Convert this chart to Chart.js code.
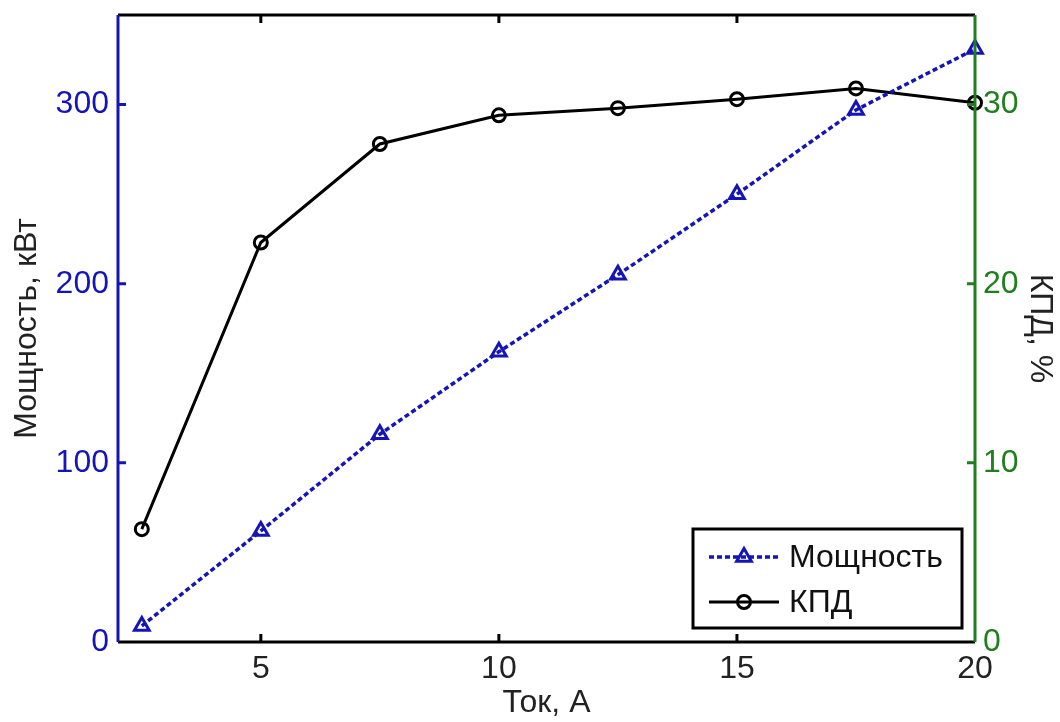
<!DOCTYPE html>
<html lang="ru">
<head>
  <meta charset="UTF-8" />
  <title>Мощность и КПД</title>
  <script src="https://cdn.jsdelivr.net/npm/chart.js"></script>
  <style>
    body { margin: 0; background: white; }
    canvas { display: block; }
  </style>
</head>
<body>
  <canvas id="chart" width="1060" height="722"></canvas>
  <script>
    // data
    const current = [2.5, 5, 7.5, 10, 12.5, 15, 17.5, 20];
    const power = [9, 62, 116, 162, 205, 250, 297, 331];
    const efficiency = [6.3, 22.3, 27.8, 29.4, 29.8, 30.3, 30.9, 30.1];
    const xTicks = [5, 10, 15, 20];
    const powerTicks = [0, 100, 200, 300];
    const effTicks = [0, 10, 20, 30];

    const BLUE = '#1414b8';
    const GREEN = '#1f7f1f';
    const FONT = 'Liberation Sans, Arial, sans-serif';
    const FS = 32;

    const setTicks = list => scale => { scale.ticks = list.map(v => ({ value: v })); };

    // frame, inward tick marks and boxed legend
    const frame = {
      id: 'frame',
      afterDraw(chart) {
        const ctx = chart.ctx;
        const a = chart.chartArea;
        const { x, y, y2 } = chart.scales;
        const len = 8;
        ctx.save();
        ctx.lineWidth = 3;
        ctx.strokeStyle = '#000';
        ctx.beginPath();
        ctx.moveTo(a.left, a.top); ctx.lineTo(a.right, a.top);
        ctx.moveTo(a.left, a.bottom); ctx.lineTo(a.right, a.bottom);
        xTicks.slice(0, -1).forEach(v => {
          const px = x.getPixelForValue(v);
          ctx.moveTo(px, a.bottom); ctx.lineTo(px, a.bottom - len);
          ctx.moveTo(px, a.top); ctx.lineTo(px, a.top + len);
        });
        ctx.stroke();
        ctx.strokeStyle = BLUE;
        ctx.beginPath();
        ctx.moveTo(a.left, a.top); ctx.lineTo(a.left, a.bottom);
        powerTicks.slice(1).forEach(v => {
          const py = y.getPixelForValue(v);
          ctx.moveTo(a.left, py); ctx.lineTo(a.left + len, py);
        });
        ctx.stroke();
        ctx.strokeStyle = GREEN;
        ctx.beginPath();
        ctx.moveTo(a.right, a.top); ctx.lineTo(a.right, a.bottom);
        effTicks.slice(1).forEach(v => {
          const py = y2.getPixelForValue(v);
          ctx.moveTo(a.right, py); ctx.lineTo(a.right - len, py);
        });
        ctx.stroke();

        // legend box
        const bx = 693, by = 529, bw = 269, bh = 99;
        ctx.fillStyle = '#fff';
        ctx.fillRect(bx, by, bw, bh);
        ctx.strokeStyle = '#000';
        ctx.lineWidth = 3;
        ctx.strokeRect(bx, by, bw, bh);
        chart.data.datasets.forEach((ds, i) => {
          const cy = by + 28 + i * 45;
          ctx.strokeStyle = ds.borderColor;
          ctx.lineWidth = ds.borderWidth;
          ctx.setLineDash(ds.borderDash || []);
          ctx.beginPath();
          ctx.moveTo(bx + 16, cy); ctx.lineTo(bx + 86, cy);
          ctx.stroke();
          ctx.setLineDash([]);
          ctx.fillStyle = 'rgba(0,0,0,0)';
          ctx.strokeStyle = ds.pointBorderColor;
          ctx.lineWidth = ds.pointBorderWidth;
          Chart.helpers.drawPoint(ctx, {
            pointStyle: ds.pointStyle, radius: ds.pointRadius,
            borderWidth: ds.pointBorderWidth, rotation: 0
          }, bx + 51, cy);
          ctx.fillStyle = '#111';
          ctx.font = FS + 'px ' + FONT;
          ctx.textBaseline = 'middle';
          ctx.fillText(ds.label, bx + 96, cy + 1);
        });
        ctx.restore();
      }
    };

    const font = { family: FONT, size: FS };

    new Chart(document.getElementById('chart'), {
      type: 'line',
      data: {
        datasets: [
          {
            label: 'Мощность',
            data: current.map((c, i) => ({ x: c, y: power[i] })),
            yAxisID: 'y',
            borderColor: BLUE,
            borderWidth: 3.5,
            borderDash: [5, 3],
            pointStyle: 'triangle',
            pointRadius: 8.5,
            pointBorderWidth: 3,
            pointBackgroundColor: 'rgba(0,0,0,0)',
            pointBorderColor: BLUE,
            clip: false
          },
          {
            label: 'КПД',
            data: current.map((c, i) => ({ x: c, y: efficiency[i] })),
            yAxisID: 'y2',
            borderColor: '#000',
            borderWidth: 3,
            pointStyle: 'circle',
            pointRadius: 6.5,
            pointBorderWidth: 3,
            pointBackgroundColor: 'rgba(0,0,0,0)',
            pointBorderColor: '#000',
            clip: false
          }
        ]
      },
      options: {
        responsive: false,
        animation: false,
        layout: { padding: { top: 15 } },
        plugins: { legend: { display: false }, tooltip: { enabled: false } },
        scales: {
          x: {
            type: 'linear', min: 2, max: 20,
            afterBuildTicks: setTicks(xTicks),
            afterFit: s => { s.height = 80; s.paddingLeft = 0; s.paddingRight = 0; },
            grid: { display: false, drawTicks: false },
            border: { display: false },
            ticks: { color: '#222', padding: 8, font },
            title: { display: true, text: 'Ток, А', color: '#222', padding: { top: 0, bottom: 0 }, font }
          },
          y: {
            position: 'left', min: 0, max: 350,
            afterBuildTicks: setTicks(powerTicks),
            afterFit: s => { s.width = 118; s.paddingTop = 0; s.paddingBottom = 0; },
            grid: { display: false, drawTicks: false },
            border: { display: false },
            ticks: { color: BLUE, padding: 9, font },
            title: { display: true, text: 'Мощность, кВт', color: '#222', padding: { top: 8 }, font }
          },
          y2: {
            position: 'right', min: 0, max: 35,
            afterBuildTicks: setTicks(effTicks),
            afterFit: s => { s.width = 85; s.paddingTop = 0; s.paddingBottom = 0; },
            grid: { display: false, drawTicks: false },
            border: { display: false },
            ticks: { color: GREEN, padding: 8, font },
            title: { display: true, text: 'КПД, %', color: '#222', padding: { top: 1 }, font }
          }
        }
      },
      plugins: [frame]
    });
  </script>
</body>
</html>
